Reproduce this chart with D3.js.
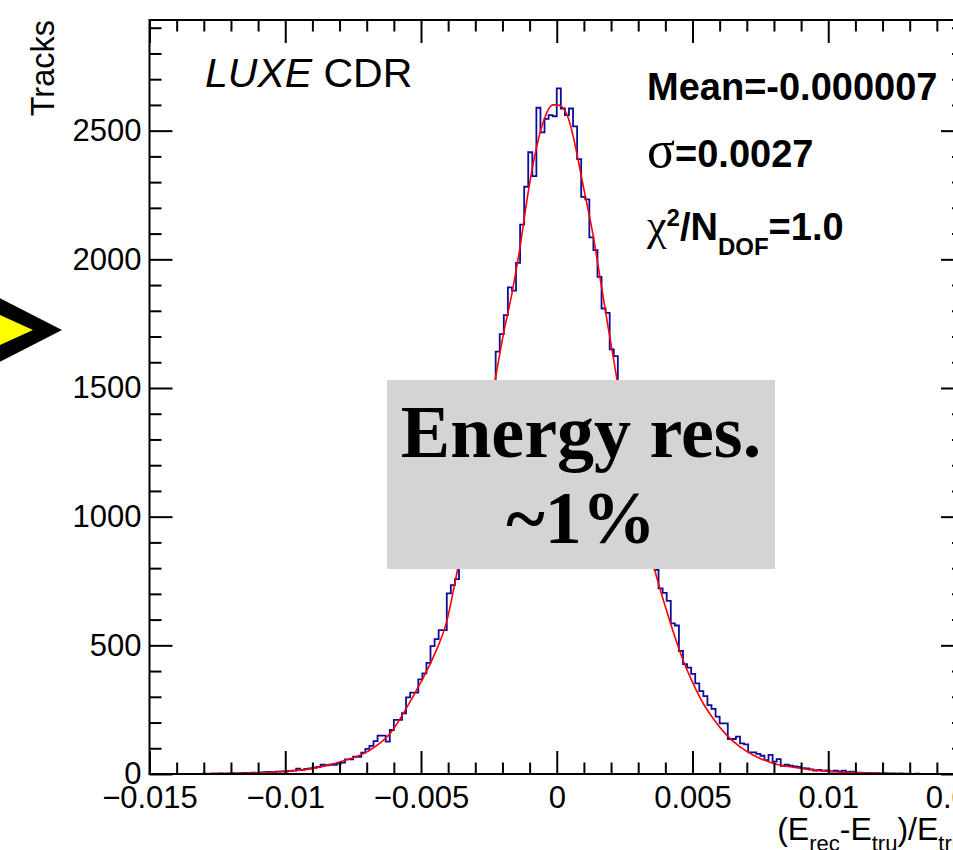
<!DOCTYPE html>
<html>
<head>
<meta charset="utf-8">
<script src="https://cdn.jsdelivr.net/npm/d3@7"></script>
<style>
  body { margin: 0; background: #fff; }
  svg { display: block; }
  .axis text { font-family: 'Liberation Sans', Arial, Helvetica, sans-serif; font-size: 31px; fill: #000; }
  .axis path { display: none; }
  .axis line { stroke: #000; stroke-width: 2; }
</style>
</head>
<body>
<div id="chart"></div>
<script>
// histogram range and bin contents (200 bins)
var xMin = -0.015
var xMax = 0.015
var counts = [
  0, 0, 0, 0, 0, 0, 0, 0, 0, 0,
  0, 0, 0, 1, 0, 1, 1, 2, 1, 2,
  3, 2, 3, 4, 4, 5, 4, 6, 7, 8,
  7, 9, 10, 9, 12, 13, 21, 16, 20, 22,
  25, 28, 36, 34, 36, 36, 40, 44, 57, 57,
  67, 67, 83, 98, 109, 128, 149, 149, 126, 171,
  210, 210, 236, 298, 316, 316, 368, 391, 432, 497,
  524, 559, 559, 702, 734, 757, 830, 905, 990, 1070,
  1150, 1250, 1340, 1440, 1520, 1641, 1709, 1783, 1891, 1878,
  1986, 2135, 2282, 2416, 2323, 2589, 2493, 2546, 2560, 2556,
  2664, 2586, 2560, 2586, 2517, 2389, 2243, 2233, 2085, 2036,
  1932, 1809, 1792, 1650, 1624, 1520, 1430, 1350, 1250, 1160,
  1070, 990, 910, 840, 793, 721, 704, 673, 585, 577,
  478, 427, 413, 389, 352, 322, 303, 268, 253, 223,
  197, 197, 136, 136, 145, 119, 115, 84, 84, 78,
  71, 54, 74, 48, 58, 32, 36, 32, 30, 28,
  23, 22, 18, 13, 16, 13, 14, 10, 13, 10,
  13, 8, 9, 5, 5, 4, 4, 3, 3, 2,
  3, 2, 2, 1, 2, 1, 1, 0, 1, 0,
  0, 0, 0, 0, 0, 0, 0, 0, 0, 0
]

// fitted curve
var fitX = [
  -0.015, -0.013, -0.0115, -0.01017, -0.00895, -0.00797, -0.00698, -0.00613,
  -0.00551, -0.00503, -0.00454, -0.00404, -0.00368, -0.0030, -0.00227, -0.00196,
  -0.00165, -0.00135, -0.00104, -0.00074, -0.00043, -0.00015, 0.00002, 0.00018,
  0.00043, 0.00061, 0.00079, 0.00098, 0.00116, 0.00135, 0.00153, 0.00171,
  0.0019, 0.00208, 0.00221, 0.0029, 0.00361, 0.00404, 0.00435, 0.00465,
  0.00502, 0.00539, 0.00576, 0.00625, 0.00674, 0.00723, 0.00796, 0.0087,
  0.00943, 0.01017, 0.01115, 0.013, 0.015
]
var fitY = [
  0, 1, 3, 9, 22, 48, 87, 158,
  261, 352, 456, 598, 780, 1150, 1531, 1712,
  1868, 2049, 2269, 2437, 2554, 2600, 2600, 2593,
  2547, 2476, 2385, 2282, 2191, 2087, 1971, 1854,
  1732, 1621, 1537, 1160, 793, 637, 533, 443,
  352, 275, 216, 152, 106, 74, 42, 26,
  16, 9, 5, 1, 0
]

var xTicks = [-0.015, -0.01, -0.005, 0, 0.005, 0.01, 0.015]
var xTickLabels = ['\u22120.015', '\u22120.01', '\u22120.005', '0', '0.005', '0.01', '0.015']
var yTicks = [0, 500, 1000, 1500, 2000, 2500]
var yMax = 2930

var margin = { top: 20, left: 149.5 }
var width = 814.5
var height = 754

var svg = d3
  .select('#chart')
  .append('svg')
  .attr('width', 953)
  .attr('height', 850)

var g = svg
  .append('g')
  .attr('transform', 'translate(' + margin.left + ',' + margin.top + ')')

var xPositionScale = d3.scaleLinear().domain([xMin, xMax]).range([0, width])
var yPositionScale = d3.scaleLinear().domain([0, yMax]).range([height, 0])

// histogram as a step outline
var binWidth = (xMax - xMin) / counts.length
var steps = counts.map(function(c, i) {
  return [xMin + i * binWidth, c]
})
steps.push([xMax, counts[counts.length - 1]])

var stepLine = d3
  .line()
  .x(d => xPositionScale(d[0]))
  .y(d => yPositionScale(d[1]))
  .curve(d3.curveStepAfter)

g.append('path')
  .datum(steps)
  .attr('d', stepLine)
  .attr('fill', 'none')
  .attr('stroke', '#0b0b9c')
  .attr('stroke-width', 1.8)

// fit
var fitLine = d3
  .line()
  .x((d, i) => xPositionScale(fitX[i]))
  .y(d => yPositionScale(d))
  .curve(d3.curveMonotoneX)

g.append('path')
  .datum(fitY)
  .attr('d', fitLine)
  .attr('fill', 'none')
  .attr('stroke', '#ff0000')
  .attr('stroke-width', 1.6)

// axes, ticks pointing inward like ROOT
var xMinor = d3.range(-15, 16).map(k => k / 1000).filter(v => Math.round(v * 1000) % 5 !== 0)
var yMinor = d3.range(100, yMax, 100).filter(v => v % 500 !== 0)

g.append('g')
  .attr('class', 'axis')
  .attr('transform', 'translate(0,' + height + ')')
  .call(d3.axisBottom(xPositionScale).tickValues(xTicks).tickSize(-23).tickPadding(12)
    .tickFormat((d, i) => xTickLabels[i]))
g.append('g')
  .attr('class', 'axis')
  .attr('transform', 'translate(0,' + height + ')')
  .call(d3.axisBottom(xPositionScale).tickValues(xMinor).tickSize(-11.5).tickFormat(''))
g.append('g')
  .attr('class', 'axis')
  .call(d3.axisTop(xPositionScale).tickValues(xTicks).tickSize(-23).tickFormat(''))
g.append('g')
  .attr('class', 'axis')
  .call(d3.axisTop(xPositionScale).tickValues(xMinor).tickSize(-11.5).tickFormat(''))

g.append('g')
  .attr('class', 'axis')
  .call(d3.axisLeft(yPositionScale).tickValues(yTicks).tickSize(-23).tickPadding(8)
    .tickFormat(d3.format('d')))
g.append('g')
  .attr('class', 'axis')
  .call(d3.axisLeft(yPositionScale).tickValues(yMinor).tickSize(-12).tickFormat(''))
g.append('g')
  .attr('class', 'axis')
  .attr('transform', 'translate(' + width + ',0)')
  .call(d3.axisRight(yPositionScale).tickValues(yTicks).tickSize(-23).tickFormat(''))
g.append('g')
  .attr('class', 'axis')
  .attr('transform', 'translate(' + width + ',0)')
  .call(d3.axisRight(yPositionScale).tickValues(yMinor).tickSize(-12).tickFormat(''))

// frame
g.append('rect')
  .attr('width', width)
  .attr('height', height)
  .attr('fill', 'none')
  .attr('stroke', '#000')
  .attr('stroke-width', 2)

var sans = "'Liberation Sans', Arial, Helvetica, sans-serif"
var serif = "'Liberation Serif', 'Times New Roman', serif"

// axis titles
svg.append('text')
  .attr('transform', 'translate(54,20) rotate(-90)')
  .attr('text-anchor', 'end')
  .attr('font-family', sans)
  .attr('font-size', 32.5)
  .text('Tracks')

var xTitle = svg.append('text')
  .attr('x', margin.left + width)
  .attr('y', 840)
  .attr('text-anchor', 'end')
  .attr('font-family', sans)
  .attr('font-size', 32)
xTitle.append('tspan').text('(E')
xTitle.append('tspan').attr('font-size', 22).attr('dy', 11).text('rec')
xTitle.append('tspan').attr('dy', -11).text('-E')
xTitle.append('tspan').attr('font-size', 22).attr('dy', 11).text('tru')
xTitle.append('tspan').attr('dy', -11).text(')/E')
xTitle.append('tspan').attr('font-size', 22).attr('dy', 11).text('tru')

// LUXE label
var luxe = svg.append('text')
  .attr('x', 205)
  .attr('y', 87)
  .attr('font-family', sans)
  .attr('font-size', 41)
luxe.append('tspan').attr('font-style', 'italic').text('LUXE')
luxe.append('tspan').text(' CDR')

// fit results
svg.append('text')
  .attr('x', 647)
  .attr('y', 100)
  .attr('font-family', sans)
  .attr('font-weight', 'bold')
  .attr('font-size', 38)
  .text('Mean=-0.000007')

var sig = svg.append('text')
  .attr('x', 647)
  .attr('y', 167)
  .attr('font-family', sans)
  .attr('font-weight', 'bold')
  .attr('font-size', 38)
sig.append('tspan').attr('font-family', serif).attr('font-weight', 'normal').attr('font-size', 52).text('\u03c3')
sig.append('tspan').text('=0.0027')

var chi = svg.append('text')
  .attr('x', 647)
  .attr('y', 240)
  .attr('font-family', sans)
  .attr('font-weight', 'bold')
  .attr('font-size', 38)
chi.append('tspan').attr('font-family', serif).attr('font-weight', 'normal').attr('font-size', 44).text('\u03c7')
chi.append('tspan').attr('font-size', 24).attr('dy', -14).text('2')
chi.append('tspan').attr('dy', 14).text('/N')
chi.append('tspan').attr('font-size', 24).attr('dy', 15).text('DOF')
chi.append('tspan').attr('dy', -15).text('=1.0')

// grey annotation box
svg.append('rect')
  .attr('x', 387)
  .attr('y', 380)
  .attr('width', 388)
  .attr('height', 189)
  .attr('fill', '#d4d4d4')

svg.append('text')
  .attr('x', 581)
  .attr('y', 457)
  .attr('text-anchor', 'middle')
  .attr('font-family', serif)
  .attr('font-weight', 'bold')
  .attr('font-size', 74)
  .text('Energy res.')
svg.append('text')
  .attr('x', 581)
  .attr('y', 543)
  .attr('text-anchor', 'middle')
  .attr('font-family', serif)
  .attr('font-weight', 'bold')
  .attr('font-size', 74)
  .text('~1%')

// yellow arrow on the left edge
svg.append('polygon')
  .attr('points', '-20,288 62,330 -20,372')
  .attr('fill', '#000')
svg.append('polygon')
  .attr('points', '-20,306 33,330 -20,354')
  .attr('fill', '#ffff00')
</script>
</body>
</html>
